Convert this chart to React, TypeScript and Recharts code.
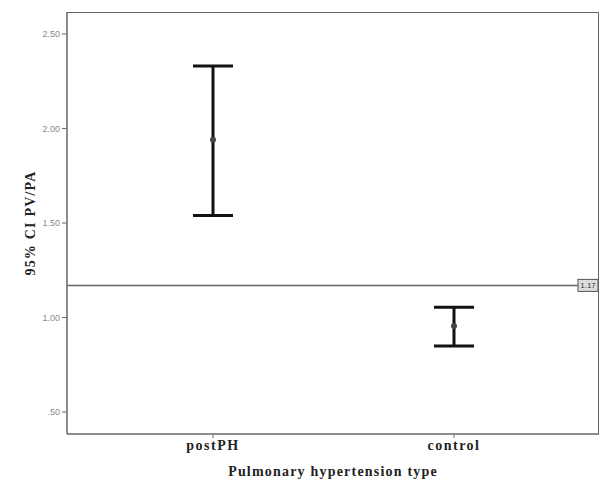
import React from 'react';
import {
  ComposedChart,
  Scatter,
  ErrorBar,
  XAxis,
  YAxis,
  ReferenceLine,
} from 'recharts';

const categories = ['postPH', 'control'];
const means = [1.94, 0.955];
const lower = [1.54, 0.85];
const upper = [2.33, 1.055];
const yTicks = [0.5, 1.0, 1.5, 2.0, 2.5];
const refValue = 1.17;

const data = categories.map((name, i) => ({
  name,
  mean: means[i],
  err: [means[i] - lower[i], upper[i] - means[i]],
}));

const frame = '#666';
const serif = '"Liberation Serif", "Times New Roman", serif';

const fmtTick = (v: number) => {
  const s = v.toFixed(2);
  return s.startsWith('0') ? s.slice(1) : s;
};

const RefLabel = (props: any) => {
  const vb = props.viewBox || {};
  const x = vb.x + vb.width - 21;
  const y = vb.y - 6;
  return (
    <g>
      <rect x={x} y={y} width={20} height={12} fill="#ddd" stroke="#555" strokeWidth={1} />
      <text x={x + 10} y={y + 9} textAnchor="middle" fontSize={8} fill="#333" fontFamily="Arial, sans-serif">
        {refValue.toFixed(2)}
      </text>
    </g>
  );
};

const Dot = (props: any) => (
  <circle cx={props.cx} cy={props.cy} r={3} fill="#444" />
);

export default function App() {
  return (
    <div style={{ position: 'relative', width: 600, height: 482, background: '#fff' }}>
      <style>{`body{margin:0}`}</style>
      <ComposedChart
        width={600}
        height={482}
        data={data}
        margin={{ top: 12, right: 1, bottom: 0, left: 0 }}
      >
        <XAxis
          dataKey="name"
          type="category"
          height={48}
          padding={{ left: 146, right: 145 }}
          axisLine={{ stroke: frame, strokeWidth: 1.5 }}
          tickLine={{ stroke: frame }}
          tickSize={4}
          tick={{ fill: '#222', fontSize: 14, fontWeight: 'bold', fontFamily: serif, letterSpacing: 1.5 }}
          label={{
            value: 'Pulmonary hypertension type',
            position: 'insideBottom',
            offset: 6,
            fill: '#222',
            fontSize: 14,
            fontWeight: 'bold',
            fontFamily: serif,
            letterSpacing: 1.2,
          }}
        />
        <YAxis
          type="number"
          domain={[0.384, 2.616]}
          ticks={yTicks}
          width={67}
          tickFormatter={fmtTick}
          axisLine={{ stroke: frame, strokeWidth: 1.5 }}
          tickLine={{ stroke: frame }}
          tickSize={5}
          tick={{ fill: '#888', fontSize: 9, fontFamily: 'Arial, sans-serif' }}
          label={{
            value: '95% CI PV/PA',
            angle: -90,
            position: 'center',
            dx: -3,
            fill: '#222',
            fontSize: 14,
            fontWeight: 'bold',
            fontFamily: serif,
            letterSpacing: 1.2,
          }}
        />
        <ReferenceLine y={refValue} stroke={frame} strokeWidth={1.5} label={<RefLabel />} />
        <Scatter dataKey="mean" shape={<Dot />} isAnimationActive={false}>
          <ErrorBar dataKey="err" direction="y" width={20} stroke="#111" strokeWidth={3} />
        </Scatter>
      </ComposedChart>
      <div
        style={{
          position: 'absolute',
          left: 67,
          top: 12,
          width: 532,
          height: 422,
          boxSizing: 'border-box',
          borderTop: `1.5px solid ${frame}`,
          borderRight: `1.5px solid ${frame}`,
          pointerEvents: 'none',
        }}
      />
    </div>
  );
}
